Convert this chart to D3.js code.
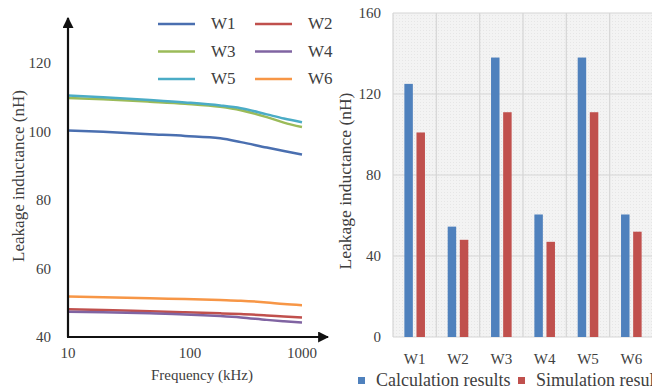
<!DOCTYPE html>
<html>
<head>
<meta charset="utf-8">
<script src="https://cdn.jsdelivr.net/npm/d3@7"></script>
<style>
  body { margin: 0; background: #fff; }
</style>
</head>
<body>
<div id="chart"></div>
<script>
// frequency sweep (kHz) and leakage inductance per winding (nH)
const freqs = [10, 20, 50, 100, 200, 300, 500, 700, 1000];
const w1 = [100.3, 99.9, 99.2, 98.7, 98.0, 96.9, 95.3, 94.3, 93.3];
const w2 = [48.1, 47.9, 47.5, 47.2, 46.9, 46.7, 46.3, 46.0, 45.7];
const w3 = [109.8, 109.4, 108.7, 108.1, 107.2, 106.2, 104.2, 102.6, 101.3];
const w4 = [47.4, 47.2, 46.9, 46.6, 46.1, 45.7, 45.0, 44.6, 44.2];
const w5 = [110.5, 110.0, 109.2, 108.5, 107.6, 106.8, 105.0, 103.8, 102.7];
const w6 = [51.8, 51.6, 51.3, 51.1, 50.8, 50.6, 50.1, 49.6, 49.3];
const lineNames = ["W1", "W2", "W3", "W4", "W5", "W6"];
const lineColors = ["#4a6fb0", "#c0504d", "#9bbb59", "#8064a2", "#4bacc6", "#f79646"];
const xTicks = [10, 100, 1000];
const yTicksLeft = [40, 60, 80, 100, 120];

// bar chart: calculation vs simulation
const windings = ["W1", "W2", "W3", "W4", "W5", "W6"];
const calcValues = [125, 54.5, 138, 60.5, 138, 60.5];
const simValues = [101, 48, 111, 47, 111, 52];
const barKeys = ["Calculation results", "Simulation results"];
const barColors = ["#4f81bd", "#c0504d"];
const yTicksRight = [0, 40, 80, 120, 160];

const serif = "'Times New Roman', 'Liberation Serif', 'DejaVu Serif', serif";

const svg = d3.select("#chart").append("svg")
    .attr("width", 652)
    .attr("height", 389)
    .attr("font-family", serif)
    .style("font-family", serif);

/**
 * Left: line chart
 */
const x = d3.scaleLog().domain([10, 1000]).range([68, 302]);
const y = d3.scaleLinear().domain([40, 120]).range([337, 63]);

const defs = svg.append("defs");
defs.append("marker")
    .attr("id", "arrow")
    .attr("viewBox", "0 0 10 10")
    .attr("refX", 9).attr("refY", 5)
    .attr("markerWidth", 5).attr("markerHeight", 5)
    .attr("orient", "auto")
  .append("path")
    .attr("d", "M0,0L10,5L0,10z")
    .attr("fill", "#111");

const series = [w1, w2, w3, w4, w5, w6];
const line = d3.line()
    .x((d, i) => x(freqs[i]))
    .y(d => y(d))
    .curve(d3.curveMonotoneX);

svg.append("g").selectAll("path")
    .data(series)
    .join("path")
    .attr("d", line)
    .attr("fill", "none")
    .attr("stroke", (d, i) => lineColors[i])
    .attr("stroke-width", 2.5);

// axes with arrows
svg.append("line")
    .attr("x1", 68).attr("y1", 337).attr("x2", 68).attr("y2", 18)
    .attr("stroke", "#111").attr("stroke-width", 2.2)
    .attr("marker-end", "url(#arrow)");
svg.append("line")
    .attr("x1", 67).attr("y1", 337).attr("x2", 328).attr("y2", 337)
    .attr("stroke", "#111").attr("stroke-width", 2.2)
    .attr("marker-end", "url(#arrow)");

const txt = sel => sel.attr("fill", "#404040").style("font-family", serif);

svg.append("g").selectAll("text")
    .data(yTicksLeft)
    .join("text")
    .attr("x", 51).attr("y", d => y(d) + 5)
    .attr("text-anchor", "end")
    .attr("font-size", 15)
    .call(txt)
    .text(d => d);

svg.append("g").selectAll("text")
    .data(xTicks)
    .join("text")
    .attr("x", (d, i) => x(d) + [0, 5, 0][i]).attr("y", 358)
    .attr("text-anchor", "middle")
    .attr("font-size", 15)
    .call(txt)
    .text(d => d);

svg.append("text")
    .attr("x", 202).attr("y", 380)
    .attr("text-anchor", "middle")
    .attr("font-size", 15)
    .call(txt)
    .text("Frequency (kHz)");

svg.append("text")
    .attr("transform", "translate(24,176) rotate(-90)")
    .attr("text-anchor", "middle")
    .attr("font-size", 17)
    .call(txt)
    .text("Leakage inductance (nH)");

// legend
const lg = svg.append("g").selectAll("g")
    .data(lineNames)
    .join("g")
    .attr("transform", (d, i) => `translate(${158 + (i % 2) * 97},${24 + Math.floor(i / 2) * 27.5})`);
lg.append("line")
    .attr("x1", 0).attr("x2", 37)
    .attr("stroke", (d, i) => lineColors[i])
    .attr("stroke-width", 2.5);
lg.append("text")
    .attr("x", 53).attr("y", 5)
    .attr("font-size", 17)
    .call(txt)
    .text(d => d);

/**
 * Right: grouped bar chart
 */
const bx = d3.scaleBand().domain(windings).range([393, 653]);
const by = d3.scaleLinear().domain([0, 160]).range([337, 13]);
const bw = bx.bandwidth();
const bx1 = d3.scaleBand().domain(barKeys)
    .range([bw / 2 - 10.3, bw / 2 + 10.3])
    .paddingInner(0.3);

const pat = defs.append("pattern")
    .attr("id", "dots")
    .attr("width", 3).attr("height", 3)
    .attr("patternUnits", "userSpaceOnUse");
pat.append("rect").attr("width", 3).attr("height", 3).attr("fill", "#f3f3f3");
pat.append("rect").attr("width", 1).attr("height", 1).attr("fill", "#e6e6e6");

svg.append("rect")
    .attr("x", 393).attr("y", by(160))
    .attr("width", 260).attr("height", by(0) - by(160))
    .attr("fill", "url(#dots)");

svg.append("g").selectAll("line")
    .data(yTicksRight)
    .join("line")
    .attr("x1", 393).attr("x2", 653)
    .attr("y1", d => by(d)).attr("y2", d => by(d))
    .attr("stroke", "#d6d6d6").attr("stroke-width", 1.2);

svg.append("g").selectAll("line")
    .data(windings)
    .join("line")
    .attr("x1", d => bx(d)).attr("x2", d => bx(d))
    .attr("y1", by(160)).attr("y2", by(0))
    .attr("stroke", "#d6d6d6").attr("stroke-width", 1.2);

const groups = svg.append("g").selectAll("g")
    .data(windings)
    .join("g")
    .attr("transform", d => `translate(${bx(d)},0)`);
groups.selectAll("rect")
    .data((d, i) => [calcValues[i], simValues[i]])
    .join("rect")
    .attr("x", (d, j) => bx1(barKeys[j]))
    .attr("width", bx1.bandwidth())
    .attr("y", d => by(d))
    .attr("height", d => by(0) - by(d))
    .attr("fill", (d, j) => barColors[j]);

svg.append("g").selectAll("text")
    .data(yTicksRight)
    .join("text")
    .attr("x", 381).attr("y", d => by(d) + 5)
    .attr("text-anchor", "end")
    .attr("font-size", 15)
    .call(txt)
    .text(d => d);

svg.append("g").selectAll("text")
    .data(windings)
    .join("text")
    .attr("x", d => bx(d) + bw / 2).attr("y", 364)
    .attr("text-anchor", "middle")
    .attr("font-size", 15)
    .call(txt)
    .text(d => d);

svg.append("text")
    .attr("transform", "translate(351,181) rotate(-90)")
    .attr("text-anchor", "middle")
    .attr("font-size", 17.5)
    .call(txt)
    .text("Leakage inductance (nH)");

const blg = svg.append("g").selectAll("g")
    .data(barKeys)
    .join("g")
    .attr("transform", (d, i) => `translate(${[358, 518][i]},381)`);
blg.append("rect")
    .attr("x", 0).attr("y", -4)
    .attr("width", 7).attr("height", 7)
    .attr("fill", (d, i) => barColors[i]);
blg.append("text")
    .attr("x", 18).attr("y", 5)
    .attr("font-size", 18)
    .call(txt)
    .text(d => d);
</script>
</body>
</html>
